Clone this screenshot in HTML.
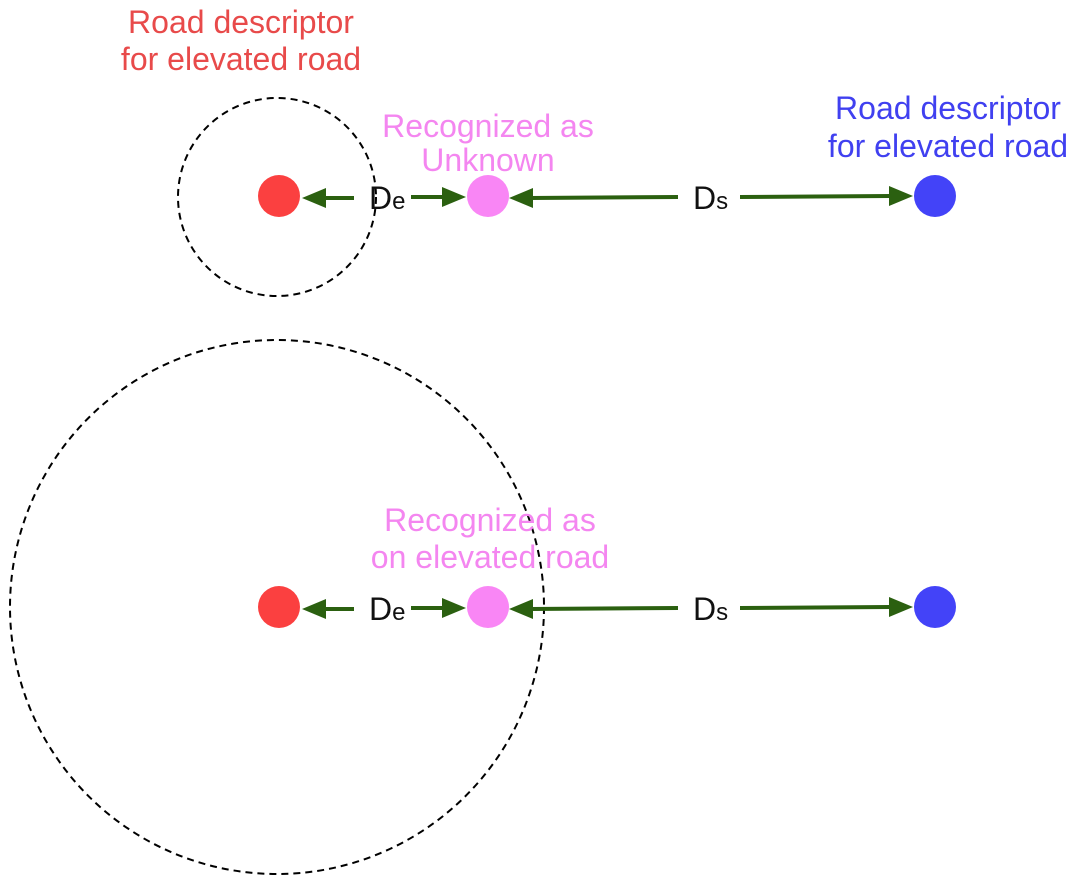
<!DOCTYPE html>
<html><head><meta charset="utf-8"><style>
html,body{margin:0;padding:0;background:#fff;}
svg{display:block;}
text{font-family:"Liberation Sans",sans-serif;}
</style></head><body>
<svg width="1080" height="884" viewBox="0 0 1080 884" xmlns="http://www.w3.org/2000/svg">
<g fill="none" stroke="#000" stroke-width="2" stroke-dasharray="7,5">
<circle cx="277" cy="197" r="99"/>
<circle cx="277" cy="607" r="267"/>
</g>
<g font-size="32" text-anchor="middle">
<text x="241" y="33" fill="#e84a4a">Road descriptor</text>
<text x="241" y="70" fill="#e84a4a">for elevated road</text>
<text x="488" y="137" fill="#f486f0">Recognized as</text>
<text x="488" y="171" fill="#f486f0">Unknown</text>
<text x="948" y="119" fill="#4040f0">Road descriptor</text>
<text x="948" y="157" fill="#4040f0">for elevated road</text>
<text x="490" y="531" fill="#f486f0">Recognized as</text>
<text x="490" y="568" fill="#f486f0">on elevated road</text>
</g>
<g id="row">
<g stroke="#2b6010" stroke-width="4">
<line x1="354" y1="198" x2="322" y2="198"/>
<line x1="411" y1="197" x2="445" y2="197"/>
<line x1="678" y1="197" x2="530" y2="198"/>
<line x1="740" y1="197" x2="892" y2="196"/>
</g>
<g fill="#2b6010">
<polygon points="302,198 326,188 326,208"/>
<polygon points="466,197 442,187 442,207"/>
<polygon points="509,198 533,188 533,208"/>
<polygon points="913,196 889,186 889,206"/>
</g>
<circle cx="279" cy="196" r="21" fill="#fb4040"/>
<circle cx="488" cy="196" r="21" fill="#f986f5"/>
<circle cx="935" cy="196" r="21" fill="#4343f8"/>
<text x="369" y="209" font-size="32" fill="#111">D<tspan font-size="24">e</tspan></text>
<text x="693" y="209" font-size="32" fill="#111">D<tspan font-size="24">s</tspan></text>
</g>
<use href="#row" transform="translate(0,411)"/>
</svg>
</body></html>
